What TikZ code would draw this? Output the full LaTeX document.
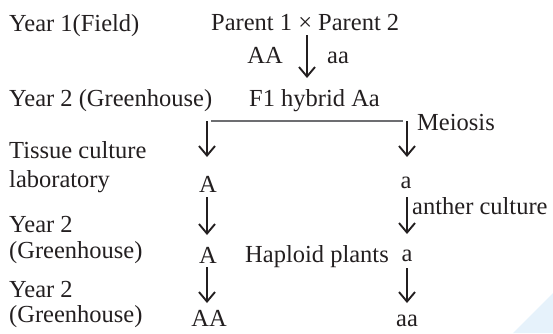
\documentclass[tikz,border=0pt]{standalone}
\usepackage{fontspec}
\setmainfont{Liberation Serif}
\usetikzlibrary{arrows.meta}
\definecolor{ink}{HTML}{231F20}
\definecolor{wm}{HTML}{E6F2FB}
\definecolor{rule}{HTML}{6D6E71}
\begin{document}
\begin{tikzpicture}[x=1pt,y=-1pt,
  lbl/.style={anchor=base west,inner sep=0pt,font=\fontsize{24.5}{29}\selectfont,text=ink},
  ctr/.style={anchor=base,inner sep=0pt,font=\fontsize{24.5}{29}\selectfont,text=ink},
  arr/.style={draw=ink,line width=1.9pt,-{Straight Barb[length=9.5pt,width=16pt,line width=1.9pt]}},
  split/.style={draw=rule,line width=1.3pt}]
\useasboundingbox (0,0) rectangle (553,333);
\fill[wm] (513,333) -- (553,293) -- (553,333) -- cycle;
% texts
\node[lbl] (y1) at (9,31) {Year 1(Field)};
\node[lbl] (par) at (211,30) {Parent 1 × Parent 2};
\node[ctr] (AA0) at (265,63) {AA};
\node[ctr] (aa0) at (338,63) {aa};
\node[lbl] (y2) at (9,106) {Year 2 (Greenhouse)};
\node[lbl] (f1) at (249,106) {F1 hybrid Aa};
\node[lbl] (mei) at (417,130) {Meiosis};
\node[lbl] (tc1) at (9,158) {Tissue culture};
\node[lbl] (tc2) at (9,187) {laboratory};
\node[ctr] (A1) at (208,192) {A};
\node[ctr] (a1) at (406,188) {a};
\node[lbl] (anth) at (412,214) {anther culture};
\node[lbl] (y3a) at (9,232) {Year 2};
\node[lbl] (y3b) at (9,258) {(Greenhouse)};
\node[ctr] (A2) at (208,263) {A};
\node[lbl] (hap) at (245,262) {Haploid plants};
\node[ctr] (a2) at (407,261) {a};
\node[lbl] (y4a) at (9,297) {Year 2};
\node[lbl] (y4b) at (9,322) {(Greenhouse)};
\node[ctr] (AA2) at (209,326) {AA};
\node[ctr] (aa2) at (407,326) {aa};
% connector ends
\coordinate (c0s) at (307,35);  \coordinate (c0e) at (307,78);
\coordinate (hl) at (211,121);  \coordinate (hr) at (403,121);
\coordinate (l0s) at (207,121); \coordinate (l0e) at (207,157);
\coordinate (r0s) at (407,121); \coordinate (r0e) at (407,157);
\coordinate (l1s) at (207,197); \coordinate (l1e) at (207,235);
\coordinate (r1s) at (407,197); \coordinate (r1e) at (407,234);
\coordinate (l2s) at (207,267); \coordinate (l2e) at (207,303);
\coordinate (r2s) at (407,268); \coordinate (r2e) at (407,303);
% connectors
\draw[arr] (c0s) -- (c0e);
\draw[split] (hl) -- (hr);
\draw[arr] (l0s) -- (l0e);
\draw[arr] (r0s) -- (r0e);
\draw[arr] (l1s) -- (l1e);
\draw[arr] (r1s) -- (r1e);
\draw[arr] (l2s) -- (l2e);
\draw[arr] (r2s) -- (r2e);
\end{tikzpicture}
\end{document}
